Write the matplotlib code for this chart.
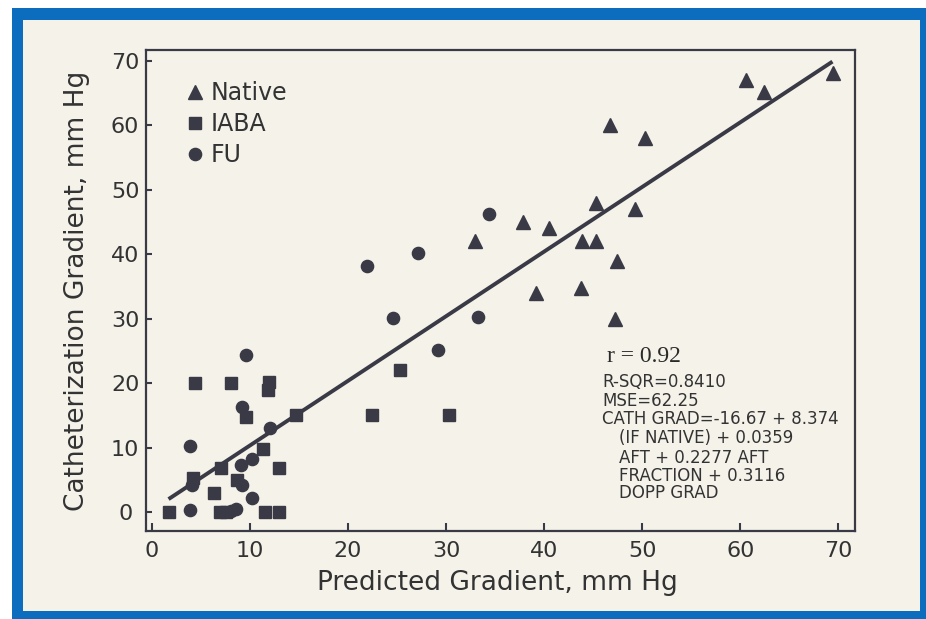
import matplotlib
matplotlib.use("Agg")
import matplotlib.pyplot as plt
from matplotlib.patches import Rectangle

# ---- data ----
native_x = [33.0, 37.8, 40.5, 43.9, 45.3, 47.4, 39.2, 43.8, 47.2, 45.3, 49.3, 46.7, 50.3, 60.6, 62.4, 69.5]
native_y = [42.0, 45.0, 44.0, 42.0, 42.0, 39.0, 34.0, 34.8, 30.0, 48.0, 47.0, 60.0, 58.0, 67.0, 65.2, 68.1]

iaba_x = [25.3, 22.4, 30.3, 4.4, 8.1, 11.9, 11.8, 9.6, 14.7, 11.3, 7.0, 13.0, 4.2, 8.7, 6.3, 1.7, 6.9, 7.6, 11.5, 13.0]
iaba_y = [22.0, 15.0, 15.0, 20.0, 20.0, 20.2, 19.0, 14.8, 15.0, 9.8, 6.9, 6.9, 5.2, 5.0, 2.9, 0.0, 0.0, 0.0, 0.0, 0.0]

fu_x = [21.9, 27.1, 24.6, 29.2, 33.3, 34.4, 9.6, 9.2, 12.0, 3.9, 10.2, 9.05, 4.1, 9.2, 10.2, 3.9, 8.1, 8.6]
fu_y = [38.1, 40.2, 30.1, 25.1, 30.2, 46.3, 24.3, 16.3, 13.1, 10.2, 8.2, 7.3, 4.2, 4.2, 2.2, 0.3, 0.1, 0.4]

fit_x = [1.7, 69.4]
fit_y = [2.0, 69.9]

x_ticks = [0, 10, 20, 30, 40, 50, 60, 70]
y_ticks = [0, 10, 20, 30, 40, 50, 60, 70]

stats_lines = ["R-SQR=0.8410", "MSE=62.25", "CATH GRAD=-16.67 + 8.374",
               "(IF NATIVE) + 0.0359", "AFT + 0.2277 AFT", "FRACTION + 0.3116", "DOPP GRAD"]
stats_indent = [False, False, False, True, True, True, True]

# ---- style ----
cream = "#f5f2ea"
blue = "#0c6dbf"
ink = "#3a3a46"

fig = plt.figure(figsize=(9.26, 6.19), dpi=100, facecolor="white")
bg = fig.add_axes([0, 0, 1, 1], zorder=0)
bg.set_xlim(0, 926)
bg.set_ylim(619, 0)
bg.axis("off")
bg.add_patch(Rectangle((12, 8), 926 - 12, 619 - 8, facecolor=blue, edgecolor="none"))
bg.add_patch(Rectangle((23, 20), 920 - 23, 611 - 20, facecolor=cream, edgecolor="none"))

ax = fig.add_axes([146/926, 1 - 531/619, (855-146)/926, (531-50)/619], zorder=2)
ax.set_facecolor("none")

ax.plot(fit_x, fit_y, color=ink, lw=2.8, solid_capstyle="butt", zorder=2)
ax.plot(native_x, native_y, linestyle="none", marker="^", ms=9.8, color=ink, mec=ink, zorder=3, label="Native")
ax.plot(iaba_x, iaba_y, linestyle="none", marker="s", ms=8.3, color=ink, mec=ink, zorder=3, label="IABA")
ax.plot(fu_x, fu_y, linestyle="none", marker="o", ms=8.8, color=ink, mec=ink, zorder=3, label="FU")

ax.set_xlim(-0.6, 71.7)
ax.set_ylim(-2.95, 71.7)
ax.set_xticks(x_ticks)
ax.set_yticks(y_ticks)
ax.set_xticklabels([str(v) for v in x_ticks])
ax.set_yticklabels([str(v) for v in y_ticks], ha="center")

for s in ax.spines.values():
    s.set_color(ink)
    s.set_linewidth(1.6)

ax.tick_params(axis="x", direction="in", length=6, width=1.5, color=ink, labelsize=16,
               labelcolor="#333333", pad=7, top=False)
ax.tick_params(axis="y", direction="in", length=4, width=1.5, color=ink, labelsize=16,
               labelcolor="#333333", pad=15, right=False)

ax.set_xlabel("Predicted Gradient, mm Hg", fontsize=19, color="#333333")
ax.set_ylabel("Catheterization Gradient, mm Hg", fontsize=19, color="#333333")
ax.xaxis.set_label_coords(0.495, -0.082)
ax.yaxis.set_label_coords(-0.079, 0.5)

leg = ax.legend(loc="upper left", bbox_to_anchor=(0.059, 0.935), frameon=False, fontsize=17,
                handlelength=0.6, handletextpad=0.35, labelspacing=0.3, borderpad=0, borderaxespad=0,
                markerscale=1.0)
for t in leg.get_texts():
    t.set_color("#333333")

ax.text((607-146)/709, (531-357)/481, "r = 0.92", transform=ax.transAxes, fontsize=17,
        family="Liberation Serif", color="#2a2a2a", ha="left", va="center")
ys = [382, 401, 419, 438, 458, 476, 493]
for line, ind, yp in zip(stats_lines, stats_indent, ys):
    xp = 619 if ind else 602
    ax.text((xp-146)/709, (531-yp)/481, line, transform=ax.transAxes, fontsize=12,
            color="#333333", ha="left", va="center")

fig.savefig("out.png", dpi=100, facecolor=fig.get_facecolor())
